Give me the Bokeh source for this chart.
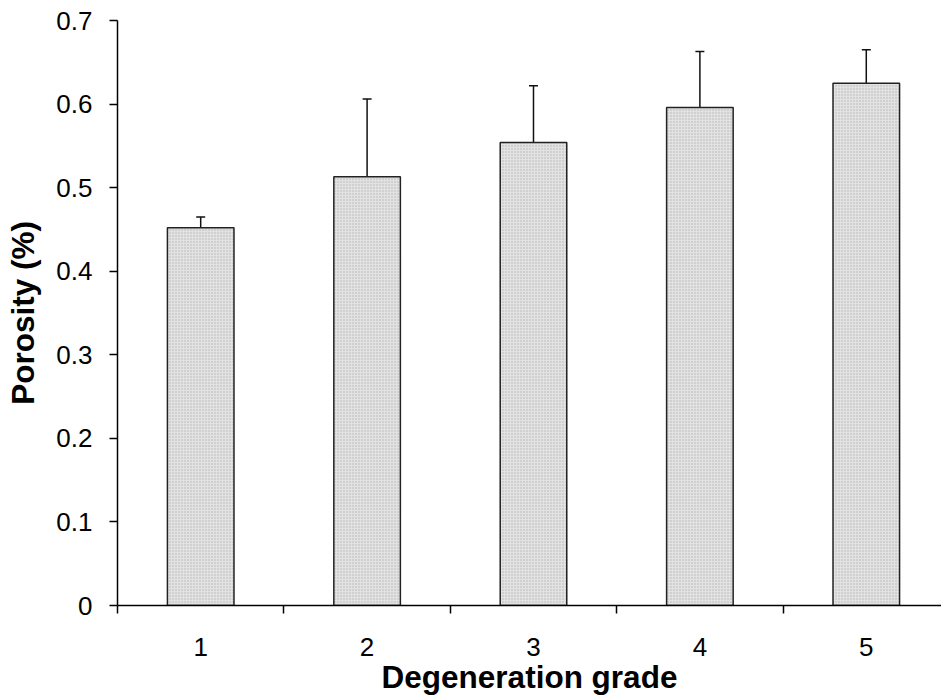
from bokeh.plotting import figure
from bokeh.models import Range1d, FixedTicker, Whisker, ColumnDataSource, TeeHead
from bokeh.embed import file_html
from bokeh.resources import INLINE

grades = [1, 2, 3, 4, 5]
porosity = [0.452, 0.513, 0.554, 0.596, 0.625]
upper_err = [0.465, 0.606, 0.622, 0.663, 0.665]
y_ticks = [0, 0.1, 0.2, 0.3, 0.4, 0.5, 0.6, 0.7]
y_tick_labels = ["0", "0.1", "0.2", "0.3", "0.4", "0.5", "0.6", "0.7"]
x_label = "Degeneration grade"
y_label = "Porosity (%)"

FONT = "Liberation Sans"

src = ColumnDataSource(dict(x=grades, top=porosity, upper=upper_err))

p = figure(width=941, height=698, output_backend="svg", toolbar_location=None,
           x_range=Range1d(0.5, 5.452), y_range=Range1d(0, 0.7),
           min_border_left=117, min_border_right=0, min_border_top=20, min_border_bottom=93)
p.outline_line_color = None
p.xgrid.grid_line_color = None
p.ygrid.grid_line_color = None
p.background_fill_color = "white"
p.border_fill_color = "white"

p.vbar(x="x", top="top", bottom=0, width=0.4, source=src,
       fill_color="#e2e2e2", line_color="#222222", line_width=1.5,
       hatch_pattern="dot", hatch_color="#b4b4b4", hatch_scale=3, hatch_weight=1)

w = Whisker(source=src, base="x", lower="top", upper="upper",
            line_color="#111111", line_width=1.5,
            upper_head=TeeHead(size=9, line_color="#111111", line_width=1.5),
            lower_head=None)
p.add_layout(w)

boundaries = [g - 0.5 for g in grades] + [grades[-1] + 0.5]
xa = p.xaxis[0]
xa.ticker = FixedTicker(ticks=grades, minor_ticks=boundaries)
xa.major_tick_out = 0
xa.major_tick_in = 0
xa.minor_tick_out = 8
xa.minor_tick_in = 0
xa.minor_tick_line_color = "black"
xa.minor_tick_line_width = 1.5
xa.axis_line_width = 1.5
xa.axis_line_color = "black"
xa.major_label_text_font = FONT
xa.major_label_text_font_size = "26px"
xa.major_label_text_color = "black"
xa.major_label_standoff = 24
xa.axis_label = x_label
xa.axis_label_text_font = FONT
xa.axis_label_text_font_style = "bold"
xa.axis_label_text_font_size = "31.5px"
xa.axis_label_text_color = "black"
xa.axis_label_standoff = 0

ya = p.yaxis[0]
ya.ticker = FixedTicker(ticks=y_ticks)
ya.major_label_overrides = dict(zip(y_ticks, y_tick_labels))
ya.major_tick_out = 8
ya.major_tick_in = 0
ya.major_tick_line_width = 1.5
ya.major_tick_line_color = "black"
ya.minor_tick_line_color = None
ya.axis_line_width = 1.5
ya.axis_line_color = "black"
ya.major_label_text_font = FONT
ya.major_label_text_font_size = "26px"
ya.major_label_text_color = "black"
ya.major_label_standoff = 17
ya.axis_label = y_label
ya.axis_label_text_font = FONT
ya.axis_label_text_font_style = "bold"
ya.axis_label_text_font_size = "31.5px"
ya.axis_label_text_color = "black"
ya.axis_label_standoff = 12

open("out.html", "w").write(file_html(p, INLINE))
